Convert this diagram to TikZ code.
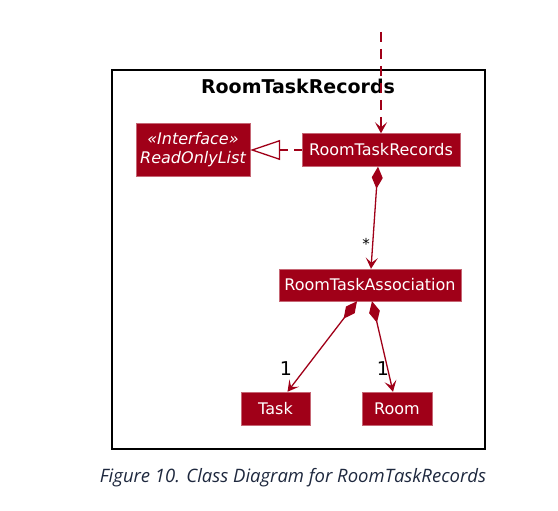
\documentclass[tikz,border=0pt]{standalone}
\usepackage{fontspec}
\setmainfont{DejaVu Sans}
\newfontfamily\capfont{Open Sans}
\usetikzlibrary{arrows.meta}
\definecolor{umlred}{RGB}{160,0,24}
\definecolor{capblue}{RGB}{30,40,62}
\begin{document}
\begin{tikzpicture}[x=1pt,y=-1pt,
  cls/.style={fill=umlred,draw=umlred!60!white,text=white,inner sep=0pt,font=\fontsize{16}{19}\selectfont},
  link/.style={color=umlred,line width=1.3pt},
  mult/.style={text=black,inner sep=0pt}]
\useasboundingbox (0,0) rectangle (558,511);
\draw[line width=2pt] (112,70) rectangle (485,449);
\node (title) at (298,86) {\fontsize{19}{21}\selectfont\bfseries RoomTaskRecords};
\node[cls,minimum width=114pt,minimum height=53pt,align=center,font=\fontsize{16}{19}\selectfont\itshape] (iface) at (193,150) {«Interface»\\ReadOnlyList};
\node[cls,minimum width=158pt,minimum height=33pt] (rtr) at (381,150) {RoomTaskRecords};
\node[cls,minimum width=182pt,minimum height=32pt] (rta) at (370,285) {RoomTaskAssociation};
\node[cls,minimum width=69pt,minimum height=33pt] (task) at (275.5,408.5) {Task};
\node[cls,minimum width=70pt,minimum height=33pt] (room) at (397,408.5) {Room};
\coordinate (entry) at (381,32);
\draw[link,dash pattern=on 10pt off 7pt,-{Stealth[length=11pt,width=12pt,inset=5pt]}] (entry) -- (rtr.north);
\draw[link,dash pattern=on 8pt off 6pt,-{Triangle[open,length=30pt,width=20pt,fill=white]}] (rtr.west) -- (iface.east);
\draw[link,{Diamond[length=22pt,width=11pt]}-{Stealth[length=11pt,width=12pt,inset=5pt]}] ([xshift=-3pt]rtr.south) -- ([xshift=1pt]rta.north);
\draw[link,{Diamond[length=22pt,width=11pt]}-{Stealth[length=11pt,width=12pt,inset=5pt]}] ([xshift=-13pt]rta.south) -- ([xshift=12pt]task.north);
\draw[link,{Diamond[length=22pt,width=11pt]}-{Stealth[length=11pt,width=12pt,inset=5pt]}] ([xshift=2pt]rta.south) -- ([xshift=-4pt]room.north);
\node[mult,font=\fontsize{15}{15}\selectfont] (star) at (366,244) {*};
\node[mult,font=\fontsize{19}{19}\selectfont] (onetask) at (286,369) {1};
\node[mult,font=\fontsize{19}{19}\selectfont] (oneroom) at (383,369) {1};
\node[text=capblue,font=\capfont\fontsize{18.5}{22}\selectfont\itshape] (caption) at (293,478) {Figure 10. Class Diagram for RoomTaskRecords};
\end{tikzpicture}
\end{document}
